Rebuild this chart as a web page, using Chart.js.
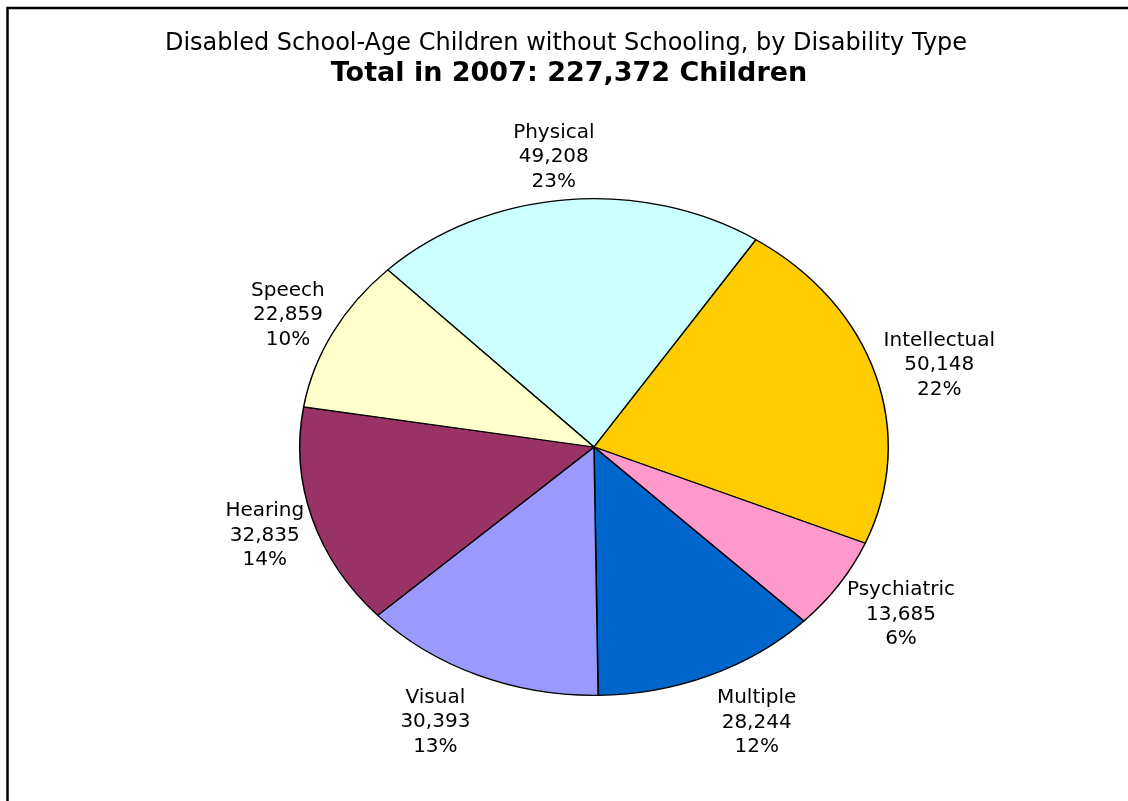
<!DOCTYPE html>
<html>
<head>
<meta charset="utf-8">
<script src="https://cdn.jsdelivr.net/npm/chart.js@4"></script>
<style>
  html, body { margin: 0; padding: 0; background: #fff; }
  #wrap { width: 1128px; height: 801px; position: relative; }
</style>
</head>
<body>
<div id="wrap"><canvas id="pieChart" width="1128" height="801"></canvas></div>
<script>
// =====================
// DATA
// =====================
const categories = ["Physical", "Intellectual", "Psychiatric", "Multiple", "Visual", "Hearing", "Speech"];
const children = [49208, 50148, 13685, 28244, 30393, 32835, 22859];
const percents = [23, 22, 6, 12, 13, 14, 10];
const sliceColors = ["#CCFFFF", "#FFCC00", "#FF99CC", "#0066CC", "#9999FF", "#993366", "#FFFFCC"];

const titleLine = "Disabled School-Age Children without Schooling, by Disability Type";
const total = children.reduce((a, b) => a + b, 0);
const subtitleLine = "Total in 2007: " + total.toLocaleString("en-US") + " Children";

// =====================
// LOOK
// =====================
const FONT = "'DejaVu Sans', Verdana, sans-serif";
const SQUASH = 249 / 295;   // pie is drawn as an ellipse
const LABEL_SIZE = 20;
const LINE_GAP = 24.5;

// squash the pie vertically around its centre
const ellipsePlugin = {
  id: "ellipse",
  beforeDatasetsDraw(chart) {
    const arc = chart.getDatasetMeta(0).data[0];
    const ctx = chart.ctx;
    ctx.save();
    ctx.translate(arc.x, arc.y);
    ctx.scale(1, SQUASH);
    ctx.translate(-arc.x, -arc.y);
  },
  afterDatasetsDraw(chart) {
    chart.ctx.restore();
  }
};

// frame, titles and outside labels
const decorPlugin = {
  id: "decor",
  beforeDraw(chart) {
    const ctx = chart.ctx;
    ctx.save();
    ctx.fillStyle = "#fff";
    ctx.fillRect(0, 0, chart.width, chart.height);
    ctx.strokeStyle = "#000";
    ctx.lineWidth = 2.5;
    ctx.beginPath();
    ctx.moveTo(7.5, chart.height + 5);
    ctx.lineTo(7.5, 8);
    ctx.lineTo(chart.width + 5, 8);
    ctx.stroke();
    ctx.restore();
  },
  afterDraw(chart) {
    const ctx = chart.ctx;
    ctx.save();
    ctx.fillStyle = "#000";
    ctx.textAlign = "center";
    ctx.textBaseline = "middle";
    ctx.font = "24px " + FONT;
    ctx.fillText(titleLine, 566, 44);
    ctx.font = "bold 27px " + FONT;
    ctx.fillText(subtitleLine, 569, 74);

    ctx.font = LABEL_SIZE + "px " + FONT;
    const meta = chart.getDatasetMeta(0);
    meta.data.forEach((arc, i) => {
      const mid = (arc.startAngle + arc.endAngle) / 2;
      const ux = Math.cos(mid), uy = Math.sin(mid);
      const rx = arc.outerRadius, ry = arc.outerRadius * SQUASH;
      const px = arc.x + rx * ux, py = arc.y + ry * uy;
      const lines = [categories[i], children[i].toLocaleString("en-US"), percents[i] + "%"];
      const hw = Math.max(...lines.map(t => ctx.measureText(t).width)) / 2;
      const hh = LINE_GAP * 1.5;
      const kx = Math.max(-1, Math.min(1, ux * 2.5));
      const lx = px + (hw + 8) * kx;
      const ly = py + (hh + 10) * uy + 4;
      lines.forEach((t, j) => ctx.fillText(t, lx, ly + (j - 1) * LINE_GAP));
    });
    ctx.restore();
  }
};

// =====================
// CHART
// =====================
new Chart(document.getElementById("pieChart"), {
  type: "pie",
  data: {
    labels: categories,
    datasets: [{
      data: children,
      backgroundColor: sliceColors,
      borderColor: "#000",
      borderWidth: 1.5
    }]
  },
  options: {
    responsive: false,
    animation: false,
    rotation: -44.5,
    layout: { padding: { left: 299, right: 239, top: 152, bottom: 59 } },
    plugins: {
      legend: { display: false },
      tooltip: { enabled: false }
    }
  },
  plugins: [decorPlugin, ellipsePlugin]
});
</script>
</body>
</html>
